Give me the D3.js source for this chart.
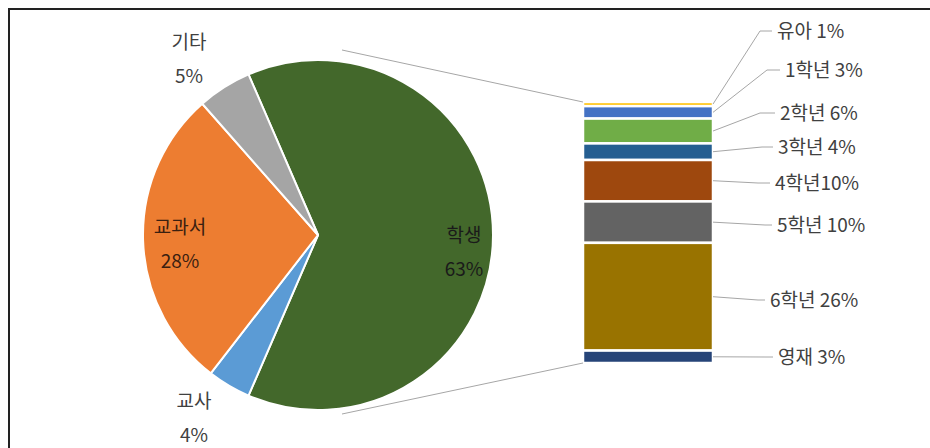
<!DOCTYPE html>
<html><head><meta charset="utf-8">
<script src="https://cdn.jsdelivr.net/npm/d3@7"></script>
<style>body{margin:0;background:#fff}svg{display:block}text{font-family:"Noto Sans CJK KR","Noto Sans",sans-serif}</style>
</head><body><svg id="c" width="930" height="448"></svg>
<script>
// Pie data
const pieCategories = ["학생", "교사", "교과서", "기타"];
const pieValues = [63, 4, 28, 5];
const pieColors = ["#43682B", "#5B9BD5", "#ED7D31", "#A5A5A5"];
// Bar (breakdown of 학생)
const barCategories = ["유아", "1학년", "2학년", "3학년", "4학년", "5학년", "6학년", "영재"];
const barValues = [1, 3, 6, 4, 10, 10, 26, 3];
const barLabels = ["유아 1%", "1학년 3%", "2학년 6%", "3학년 4%", "4학년10%", "5학년 10%", "6학년 26%", "영재 3%"];
const barColors = ["#FFC000", "#4472C4", "#70AD47", "#255E91", "#9E480E", "#636363", "#997300", "#264478"];

const svg = d3.select("#c");
svg.append("rect").attr("width", 930).attr("height", 448).attr("fill", "#fff");
// frame
svg.append("path").attr("d", "M9,448V9H930").attr("fill", "none").attr("stroke", "#222").attr("stroke-width", 2);

const cx = 318, cy = 235, R = 175;
const total = d3.sum(pieValues);
const span = pieValues[0] / total * 2 * Math.PI;
const pie = d3.pie().sort(null).value(d => d).startAngle(Math.PI / 2 - span / 2).endAngle(Math.PI / 2 - span / 2 + 2 * Math.PI);
const arcs = pie(pieValues);
const arc = d3.arc().innerRadius(0).outerRadius(R);
const g = svg.append("g").attr("transform", `translate(${cx},${cy})`);
g.selectAll("path").data(arcs).join("path")
  .attr("d", arc).attr("fill", (d, i) => pieColors[i])
  .attr("stroke", "#fff").attr("stroke-width", 2).attr("stroke-linejoin", "round");

// bar
const barSum = d3.sum(barValues);
const y = d3.scaleLinear().domain([0, barSum]).range([102, 363]);
const x = d3.scaleBand().domain(["s"]).range([583, 713]);
const cum = d3.cumsum(barValues);
const segs = barValues.map((v, i) => ({ v, i, y0: cum[i] - v, y1: cum[i] }));
svg.append("g").selectAll("rect").data(segs).join("rect")
  .attr("x", x("s")).attr("width", x.bandwidth())
  .attr("y", d => y(d.y0)).attr("height", d => y(d.y1) - y(d.y0))
  .attr("fill", d => barColors[d.i]).attr("stroke", "#fff").attr("stroke-width", 2.5);

// series lines
const lineStyle = s => s.attr("stroke", "#A6A6A6").attr("stroke-width", 1).attr("fill", "none");
svg.append("line").attr("x1", 342).attr("y1", 50).attr("x2", x("s")).attr("y2", y(0)).call(lineStyle);
svg.append("line").attr("x1", 342).attr("y1", 414).attr("x2", x("s")).attr("y2", y(barSum)).call(lineStyle);

// bar labels
const labelPos = [[777, 31, 760], [785, 70, 767], [780, 113, 760], [778, 147, 762], [775, 183, 758], [777, 225, 765], [770, 300, 758], [778, 357, 765]];
segs.forEach((d, i) => {
  const ym = (y(d.y0) + y(d.y1)) / 2;
  const [tx, ty, lx] = labelPos[i];
  const pts = [[713, ym], [lx, ty], [tx - 5, ty]];
  svg.append("path").attr("d", d3.line()(pts)).call(lineStyle);
  svg.append("text").attr("x", tx).attr("y", ty).attr("dy", "0.35em")
    .attr("font-size", 19).attr("fill", "#404040").text(barLabels[i]);
});

// pie labels
const pieLabelPos = [[464, 235], [194, 401], [180, 227], [189, 42]];
pieLabelPos.forEach(([lx, ly], i) => {
  const col = i === 0 ? "#1a1a1a" : (i === 2 ? "#3a2010" : "#404040");
  svg.append("text").attr("x", lx).attr("y", ly).attr("dy", "0.35em").attr("text-anchor", "middle")
    .attr("font-size", 19).attr("fill", col).text(pieCategories[i]);
  svg.append("text").attr("x", lx).attr("y", ly + 34).attr("dy", "0.35em").attr("text-anchor", "middle")
    .attr("font-size", 19).attr("fill", col).text(pieValues[i] + "%");
});
</script></body></html>
